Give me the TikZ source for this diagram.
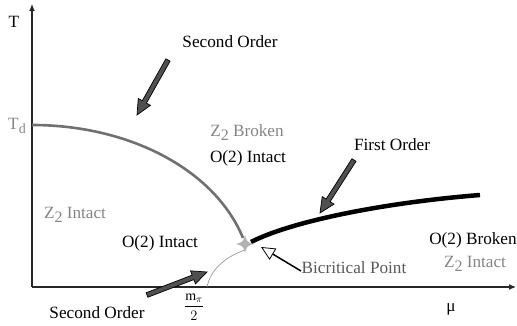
\documentclass[tikz,border=0pt]{standalone}
\usepackage{fontspec}
\setmainfont{Liberation Serif}
\usetikzlibrary{calc,arrows.meta}
\definecolor{curvegray}{HTML}{707070}
\definecolor{txtgray}{HTML}{858585}
\definecolor{arrfill}{HTML}{505050}
\newcommand\blockarr[2]{%
  \filldraw[fill=arrfill,draw=black,line width=0.7pt,line join=miter]
    let \p1=($(#2)-(#1)$), \n1={atan2(\y1,\x1)}, \n2={veclen(\x1,\y1)} in
    {[shift={(#1)},rotate=\n1]
      (0,-2.4) -- (\n2-15,-2.4) -- (\n2-15,-7) -- (\n2,0) -- (\n2-15,7) -- (\n2-15,2.4) -- (0,2.4) -- cycle};
}
\newcommand\zz{Z\raisebox{-0.5ex}{\fontsize{16}{16}\selectfont 2}}
\begin{document}
\begin{tikzpicture}[x=1pt,y=-1pt,
  lbl/.style={font=\fontsize{17.2}{19}\selectfont, inner sep=0pt},
  glbl/.style={lbl, text=txtgray},
  axis/.style={line width=1.2pt, draw=black!85, -{Latex[length=7pt,width=6pt]}}]
\useasboundingbox (0,0) rectangle (517,326);
% axes
\coordinate (O) at (32,287);
\coordinate (Ytop) at (32,4);
\coordinate (Xend) at (516,287);
\draw[axis] (O) -- (Ytop);
\draw[axis] (O) -- (Xend);
% curves
\coordinate (Td) at (32,125);
\coordinate (BCb) at (245,250);
\coordinate (BCr) at (251,242);
\coordinate (Mpi) at (207,287);
\coordinate (FOend) at (480,195);
\draw[curvegray, line width=2.6pt] (Td) .. controls (130,125) and (215,170) .. (243,238);
\draw[black!45, line width=0.6pt] (BCb) .. controls (222,258) and (210,272) .. (Mpi);
\draw[black, line width=4.5pt] (BCr) .. controls (290,222) and (380,203) .. (FOend);
% bicritical point
\fill[black!30] (245,235) .. controls (247,242) .. (254,244) .. controls (247,246) .. (245,253)
  .. controls (243,246) .. (236,244) .. controls (243,242) .. cycle;
% labels
\node[lbl] (T) at (14,22) {T};
\node[glbl] (Tdl) at (17,126) {T\raisebox{-0.5ex}{\fontsize{14}{14}\selectfont d}};
\node[lbl] (so1) at (230,42) {Second Order};
\node[glbl] (z2b) at (247,133) {\zz{} Broken};
\node[lbl] (o2i1) at (248,158) {O(2) Intact};
\node[lbl] (fo) at (392,145) {First Order};
\node[glbl] (z2i1) at (75,215) {\zz{} Intact};
\node[lbl] (o2i2) at (160,243) {O(2) Intact};
\node[lbl, text=black!65] (bcp) at (354,268) {Bicritical Point};
\node[lbl] (o2b) at (473,240) {O(2) Broken};
\node[glbl] (z2i2) at (475,264) {\zz{} Intact};
\node[lbl] (so2) at (97,313) {Second Order};
\node[inner sep=0pt, font=\fontsize{14}{16}\selectfont] (mpi) at (194,307) {$\displaystyle\frac{\mathrm{m}_\pi}{2}$};
\node[lbl] (mu) at (451,309) {μ};
% arrows
\coordinate (a1t) at (168,60);
\coordinate (a1h) at (137,115);
\coordinate (a2t) at (354,160);
\coordinate (a2h) at (320,213);
\coordinate (a3t) at (147,295);
\coordinate (a3h) at (207,272);
\coordinate (a4t) at (301,271);
\coordinate (a4h) at (261,247);
\blockarr{a1t}{a1h}
\blockarr{a2t}{a2h}
\blockarr{a3t}{a3h}
\draw[black, line width=1.5pt, -{Triangle[open,fill=white,length=14pt,width=13pt,line width=0.8pt]}] (a4t) -- (a4h);
\end{tikzpicture}
\end{document}
